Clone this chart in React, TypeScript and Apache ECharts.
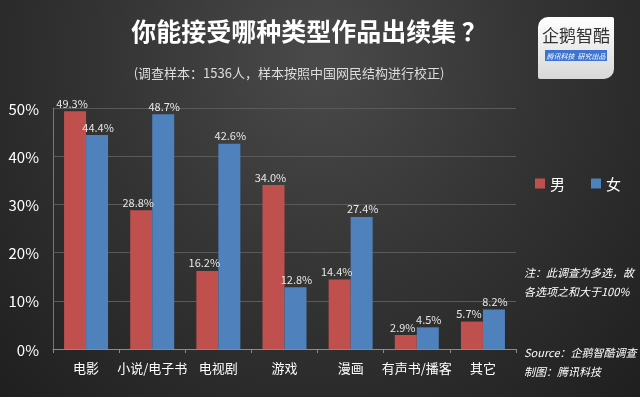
import React, { useEffect, useRef } from "react";
import * as echarts from "echarts";

const categories = ["电影", "小说/电子书", "电视剧", "游戏", "漫画", "有声书/播客", "其它"];
const maleValues = [49.3, 28.8, 16.2, 34.0, 14.4, 2.9, 5.7];
const femaleValues = [44.4, 48.7, 42.6, 12.8, 27.4, 4.5, 8.2];
const seriesNames = ["男", "女"];
const yTicks = [0, 10, 20, 30, 40, 50];

const FONT = '"Noto Sans CJK SC", "Noto Sans", sans-serif';

export default function App() {
  const ref = useRef<HTMLDivElement>(null);
  useEffect(() => {
    if (!ref.current) return;
    const chart = echarts.init(ref.current, null, { renderer: "svg" });
    const labelStyle = (dx: number) => ({
      show: true,
      position: "top" as const,
      color: "#e8e8e8",
      fontSize: 11,
      fontFamily: FONT,
      distance: 3,
      offset: [dx, 0],
      formatter: (p: any) => p.value.toFixed(1) + "%",
    });
    chart.setOption({
      animation: false,
      backgroundColor: "transparent",
      textStyle: { fontFamily: FONT },
      title: [
        {
          text: "你能接受哪种类型作品出续集 ？",
          left: 304,
          textAlign: "center",
          top: 12,
          textStyle: { color: "#ffffff", fontSize: 25, fontWeight: "bold", fontFamily: FONT },
        },
        {
          text: "(调查样本：1536人，样本按照中国网民结构进行校正)",
          left: 284,
          textAlign: "center",
          top: 61,
          textStyle: { color: "#dddddd", fontSize: 13, fontWeight: "normal", fontFamily: FONT },
        },
      ],
      legend: {
        data: seriesNames,
        left: 530,
        top: 171,
        itemWidth: 10,
        itemHeight: 10,
        itemGap: 26,
        icon: "rect",
        textStyle: { color: "#ffffff", fontSize: 15, fontFamily: FONT },
      },
      grid: { left: 53, right: 124, top: 108, bottom: 48 },
      xAxis: {
        type: "category",
        data: categories,
        axisLine: { lineStyle: { color: "#8a8a8a" } },
        axisTick: { show: true, lineStyle: { color: "#8a8a8a" }, length: 4 },
        axisLabel: { color: "#ffffff", fontSize: 13, margin: 12, interval: 0, fontFamily: FONT },
      },
      yAxis: {
        type: "value",
        min: yTicks[0],
        max: yTicks[yTicks.length - 1],
        interval: 10,
        axisLine: { show: true, lineStyle: { color: "#777777" } },
        axisTick: { show: false },
        axisLabel: { color: "#ffffff", fontSize: 15, margin: 14, formatter: "{value}%", fontFamily: FONT },
        splitLine: { lineStyle: { color: "#5a5a5a" } },
      },
      series: [
        {
          name: seriesNames[0],
          type: "bar",
          data: maleValues,
          barWidth: 22,
          barGap: "0%",
          itemStyle: { color: "#C0504D" },
          label: labelStyle(-3),
        },
        {
          name: seriesNames[1],
          type: "bar",
          data: femaleValues,
          barWidth: 22,
          barGap: "0%",
          itemStyle: { color: "#4F81BD" },
          label: labelStyle(1),
        },
      ],
      graphic: [
        {
          type: "group",
          left: 538,
          top: 17,
          children: [
            {
              type: "rect",
              shape: { x: 0, y: 0, width: 76, height: 62, r: [10, 2, 10, 2] },
              style: {
                fill: new echarts.graphic.LinearGradient(0, 0, 0, 1, [
                  { offset: 0, color: "#ffffff" },
                  { offset: 1, color: "#d8d8d8" },
                ]),
              },
            },
            {
              type: "text",
              x: 38,
              y: 17,
              style: {
                text: "企鹅智酷",
                fill: "#333333",
                fontSize: 17,
                fontFamily: FONT,
                align: "center",
                verticalAlign: "middle",
              },
            },
            {
              type: "rect",
              shape: { x: 7, y: 33, width: 62, height: 11 },
              style: { fill: "#3e74d1" },
            },
            {
              type: "text",
              x: 38,
              y: 38.5,
              style: {
                text: "腾讯科技  研究出品",
                fill: "#ffffff",
                fontSize: 7,
                fontStyle: "italic",
                fontFamily: FONT,
                align: "center",
                verticalAlign: "middle",
              },
            },
          ],
        },
        {
          type: "text",
          left: 524,
          top: 262,
          style: {
            text: "注：此调查为多选，故\n各选项之和大于100%",
            fill: "#ffffff",
            fontSize: 11,
            lineHeight: 19,
            fontStyle: "italic",
            fontFamily: FONT,
          },
        },
        {
          type: "text",
          left: 524,
          top: 342,
          style: {
            text: "Source：企鹅智酷调查\n制图：腾讯科技",
            fill: "#ffffff",
            fontSize: 11,
            lineHeight: 19,
            fontStyle: "italic",
            fontFamily: FONT,
          },
        },
      ],
    });
    return () => chart.dispose();
  }, []);
  return (
    <div
      ref={ref}
      style={{
        position: "fixed",
        left: 0,
        top: 0,
        width: 640,
        height: 397,
        background: "radial-gradient(ellipse at 50% 15%, #4a4a4a 0%, #353535 45%, #1f1f1f 100%)",
      }}
    />
  );
}
